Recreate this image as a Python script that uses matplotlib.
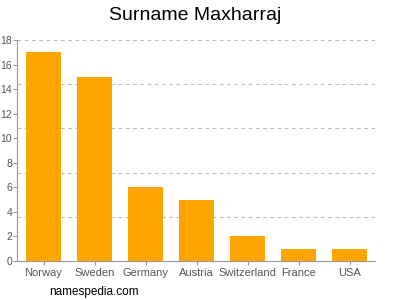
import matplotlib
matplotlib.use("Agg")
import matplotlib.pyplot as plt
import numpy as np

plt.rcParams['font.family'] = ['Liberation Sans', 'DejaVu Sans']

countries = ["Norway", "Sweden", "Germany", "Austria", "Switzerland", "France", "USA"]
values = [17, 15, 6, 5, 2, 1, 1]
yticks = [0, 2, 4, 6, 8, 10, 12, 14, 16, 18]
gridlines = [3.6, 7.2, 10.8, 14.4, 18]

fig = plt.figure(figsize=(4, 3), dpi=100)
ax = fig.add_axes([17/400, 1-261/300, (375-17)/400, (261-40)/300])
x = np.arange(len(countries))
ax.bar(x, values, width=0.686, color="#FFA500", zorder=2)
for g in gridlines:
    ax.axhline(g, color="#C0C0C0", linestyle=(0, (3.5, 3)), linewidth=0.8, zorder=1)
ax.set_xlim(-0.52, 6.5)
ax.set_ylim(0, 18)
ax.set_yticks(yticks)
ax.set_xticks(x)
ax.set_xticklabels(countries)
for s in ["top", "right"]:
    ax.spines[s].set_visible(False)
for s in ["left", "bottom"]:
    ax.spines[s].set_color("#999999")
    ax.spines[s].set_linewidth(0.8)
ax.tick_params(axis="both", colors="#999999", labelcolor="#555555", labelsize=7.5, length=3, width=0.8)
ax.tick_params(axis="x", labelsize=8, pad=2)
ax.tick_params(axis="y", pad=0.5)
fig.text(0.4875, 0.95, "Surname Maxharraj", ha="center", va="center", fontsize=14)
fig.text(0.122, 0.028, "namespedia.com", ha="left", va="center", fontsize=8.5)
fig.savefig("out.png", dpi=100)
